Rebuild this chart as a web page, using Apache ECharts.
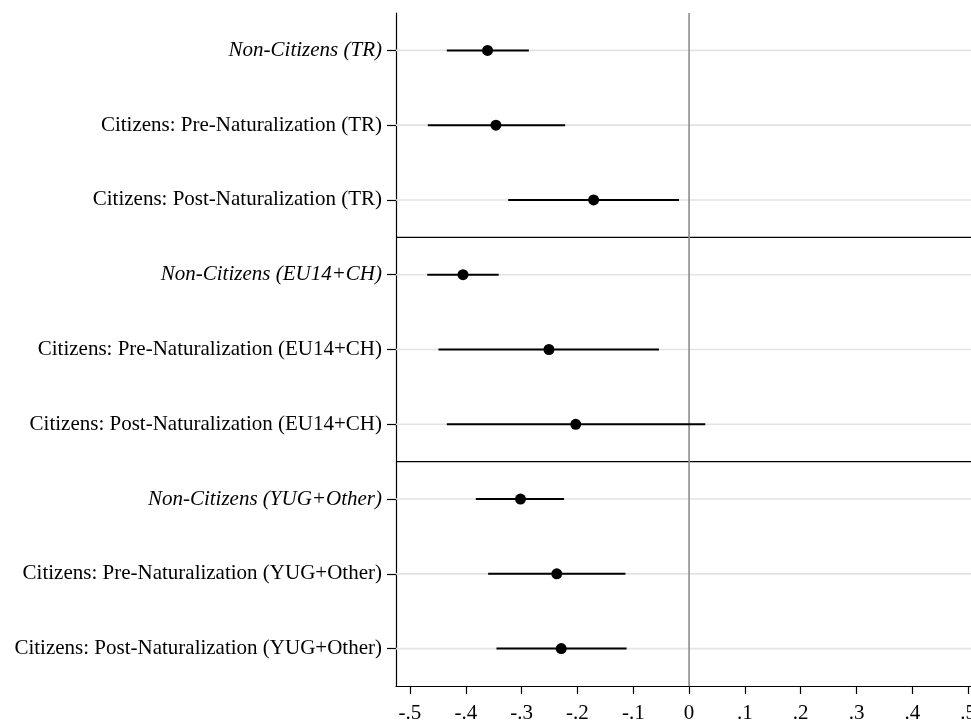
<!DOCTYPE html>
<html>
<head>
<meta charset="utf-8">
<script src="https://cdn.jsdelivr.net/npm/echarts@6/dist/echarts.min.js"></script>
<style>html,body{margin:0;padding:0;background:#fff;overflow:hidden}#main{width:971px;height:720px}</style>
</head>
<body>
<div id="main"></div>
<script>
var categories = [
  'Non-Citizens (TR)',
  'Citizens: Pre-Naturalization (TR)',
  'Citizens: Post-Naturalization (TR)',
  'Non-Citizens (EU14+CH)',
  'Citizens: Pre-Naturalization (EU14+CH)',
  'Citizens: Post-Naturalization (EU14+CH)',
  'Non-Citizens (YUG+Other)',
  'Citizens: Pre-Naturalization (YUG+Other)',
  'Citizens: Post-Naturalization (YUG+Other)'
];
var estimates = [-0.361, -0.346, -0.171, -0.405, -0.251, -0.203, -0.302, -0.237, -0.229];
var lower     = [-0.434, -0.468, -0.324, -0.469, -0.449, -0.434, -0.382, -0.360, -0.345];
var upper     = [-0.287, -0.222, -0.018, -0.341, -0.054,  0.029, -0.224, -0.114, -0.112];
var xTicks = [-0.5, -0.4, -0.3, -0.2, -0.1, 0, 0.1, 0.2, 0.3, 0.4, 0.5];
var groupBreaks = [3, 6]; // separators after the 3rd and 6th rows
var refValue = [0];       // vertical reference line

var FONT = 'Liberation Serif';
var FS = 21;

function fmtTick(v) {
  var r = Math.round(v * 10) / 10;
  if (r === 0) return '0';
  var s = Math.abs(r).toFixed(1).replace(/^0/, '');
  return (r < 0 ? '-' : '') + s;
}

var chart = echarts.init(document.getElementById('main'), null, {renderer: 'canvas', width: 971, height: 720});

var ciData = categories.map(function (c, i) { return [lower[i], upper[i], i]; });
var ptData = categories.map(function (c, i) { return [estimates[i], c]; });
var gridData = categories.map(function (c, i) { return [i]; });
var sepData = groupBreaks.map(function (b) { return [b]; });
var refData = refValue.map(function (v) { return [v]; });

function hLineRender(color, width) {
  return function (params, api) {
    var cs = params.coordSys;
    var p = api.coord([0, api.value(0)]);
    return {
      type: 'line',
      shape: {x1: cs.x, y1: p[1], x2: cs.x + cs.width, y2: p[1]},
      style: {stroke: color, lineWidth: width}
    };
  };
}

var option = {
  backgroundColor: '#ffffff',
  animation: false,
  grid: {left: 396, right: 0, top: 13, bottom: 34, containLabel: false, outerBoundsMode: 'none'},
  xAxis: {
    type: 'value',
    min: -0.525,
    max: 0.505,
    axisLine: {show: true, onZero: false, lineStyle: {color: '#000', width: 1.2}},
    axisTick: {show: true, length: 8, customValues: xTicks, lineStyle: {color: '#000', width: 1.2}},
    axisLabel: {
      customValues: xTicks,
      formatter: fmtTick,
      margin: 16.5,
      color: '#000',
      fontFamily: FONT,
      fontSize: FS,
      hideOverlap: false
    },
    splitLine: {show: false}
  },
  yAxis: [{
    type: 'category',
    data: categories,
    inverse: true,
    boundaryGap: true,
    axisLine: {show: true, onZero: false, lineStyle: {color: '#000', width: 1.2}},
    axisTick: {show: true, alignWithLabel: true, length: 9, lineStyle: {color: '#000', width: 1.2}},
    axisLabel: {
      margin: 14,
      color: '#000',
      fontFamily: FONT,
      fontSize: FS,
      formatter: function (v) {
        return v.indexOf('Non-Citizens') === 0 ? '{it|' + v + '}' : '{n|' + v + '}';
      },
      rich: {
        it: {fontStyle: 'italic', fontFamily: FONT, fontSize: FS, color: '#000'},
        n: {fontFamily: FONT, fontSize: FS, color: '#000'}
      }
    },
    splitLine: {show: false}
  }, {
    type: 'value',
    min: 0,
    max: categories.length,
    inverse: true,
    show: false,
    axisLine: {show: false, onZero: false},
    axisTick: {show: false},
    axisLabel: {show: false},
    splitLine: {show: false}
  }],
  series: [
    {
      name: 'gridlines',
      type: 'custom',
      yAxisIndex: 0,
      z: 1,
      silent: true,
      data: gridData,
      encode: {y: 0},
      renderItem: hLineRender('#e3e3e3', 1.6)
    },
    {
      name: 'separators',
      type: 'custom',
      yAxisIndex: 1,
      z: 2,
      silent: true,
      data: sepData,
      encode: {y: 0},
      renderItem: hLineRender('#000', 1.4)
    },
    {
      name: 'zero',
      type: 'custom',
      yAxisIndex: 1,
      z: 2,
      silent: true,
      data: refData,
      encode: {x: 0},
      renderItem: function (params, api) {
        var cs = params.coordSys;
        var p = api.coord([api.value(0), 0]);
        return {
          type: 'line',
          shape: {x1: p[0], y1: cs.y, x2: p[0], y2: cs.y + cs.height},
          style: {stroke: '#8c8c8c', lineWidth: 1.6}
        };
      }
    },
    {
      name: 'CI',
      type: 'custom',
      yAxisIndex: 0,
      z: 3,
      data: ciData,
      encode: {x: [0, 1], y: 2},
      renderItem: function (params, api) {
        var p1 = api.coord([api.value(0), api.value(2)]);
        var p2 = api.coord([api.value(1), api.value(2)]);
        return {
          type: 'line',
          shape: {x1: p1[0], y1: p1[1], x2: p2[0], y2: p2[1]},
          style: {stroke: '#000', lineWidth: 2}
        };
      }
    },
    {
      name: 'Estimate',
      type: 'scatter',
      yAxisIndex: 0,
      z: 4,
      symbol: 'circle',
      symbolSize: 11,
      itemStyle: {color: '#000', opacity: 1},
      data: ptData
    }
  ]
};
chart.setOption(option);
</script>
</body>
</html>
